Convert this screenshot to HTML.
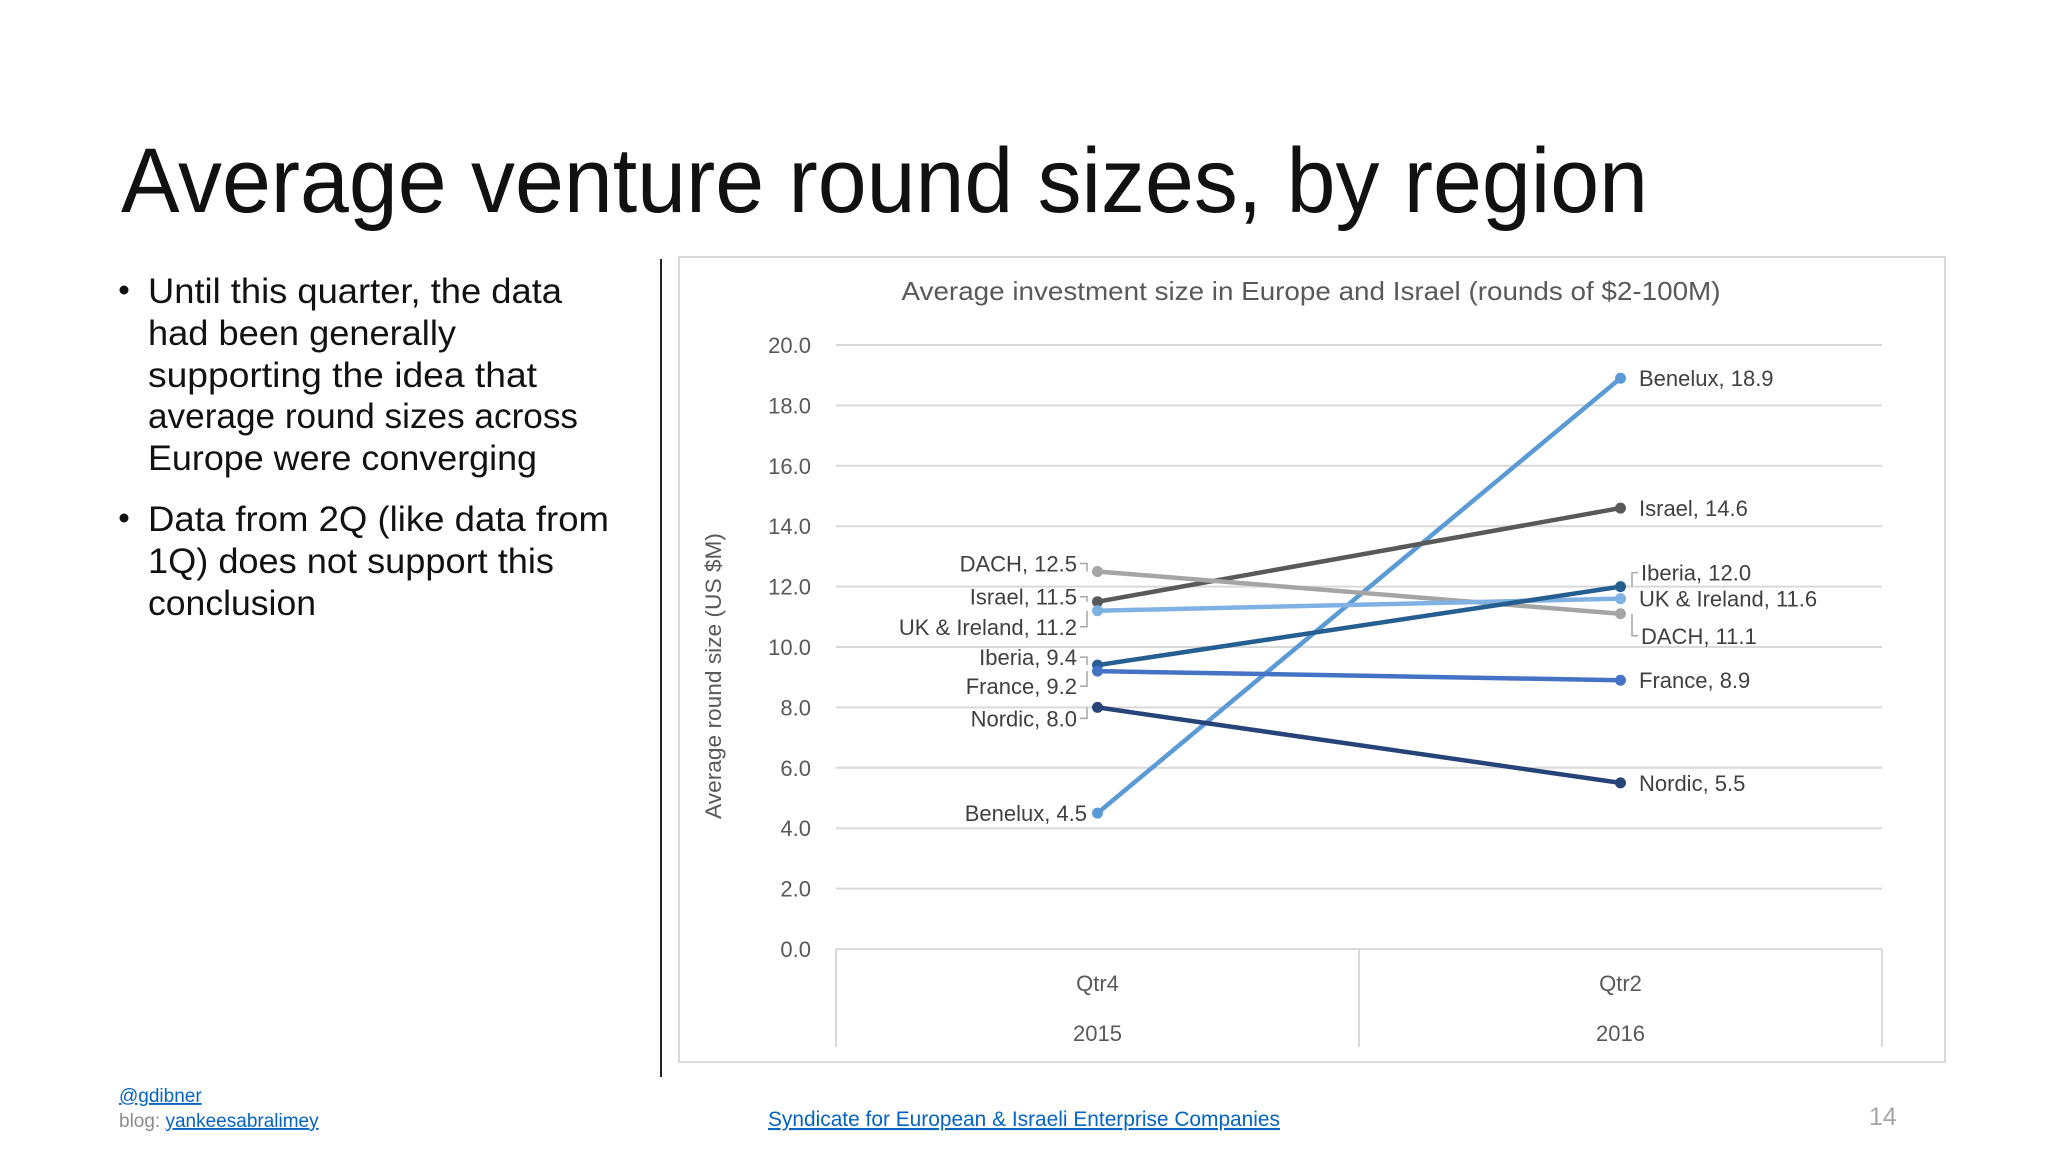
<!DOCTYPE html>
<html><head><meta charset="utf-8"><style>
html,body{margin:0;padding:0;background:#fff}
svg{display:block;font-family:"Liberation Sans",sans-serif}
</style></head><body>
<svg id="s" width="2048" height="1152" viewBox="0 0 2048 1152" xmlns="http://www.w3.org/2000/svg">
<rect x="0" y="0" width="2048" height="1152" fill="#fff"/>
<text x="121" y="212" font-size="92" fill="#111" textLength="1527" lengthAdjust="spacingAndGlyphs">Average venture round sizes, by region</text>
<g font-size="35" fill="#111">
<circle cx="124" cy="290" r="4.5" fill="#111"/>
<text x="148" y="303" textLength="414" lengthAdjust="spacingAndGlyphs">Until this quarter, the data</text>
<text x="148" y="345" textLength="308" lengthAdjust="spacingAndGlyphs">had been generally</text>
<text x="148" y="387" textLength="389" lengthAdjust="spacingAndGlyphs">supporting the idea that</text>
<text x="148" y="428" textLength="430" lengthAdjust="spacingAndGlyphs">average round sizes across</text>
<text x="148" y="470" textLength="389" lengthAdjust="spacingAndGlyphs">Europe were converging</text>
<circle cx="124" cy="518" r="4.5" fill="#111"/>
<text x="148" y="531" textLength="461" lengthAdjust="spacingAndGlyphs">Data from 2Q (like data from</text>
<text x="148" y="573" textLength="406" lengthAdjust="spacingAndGlyphs">1Q) does not support this</text>
<text x="148" y="615" textLength="168" lengthAdjust="spacingAndGlyphs">conclusion</text>
</g>
<line x1="661" y1="259" x2="661" y2="1077" stroke="#222" stroke-width="2"/>
<rect x="679" y="257" width="1266" height="805" fill="#fff" stroke="#d9d9d9" stroke-width="2"/>
<text x="1311" y="300" font-size="26" fill="#595959" text-anchor="middle" textLength="819" lengthAdjust="spacingAndGlyphs">Average investment size in Europe and Israel (rounds of $2-100M)</text>
<text transform="translate(721,676) rotate(-90)" font-size="22" fill="#595959" text-anchor="middle" textLength="286" lengthAdjust="spacingAndGlyphs">Average round size (US $M)</text>
<g id="grid"></g><g id="axis"></g><g id="series"></g><g id="labels"></g>
<g font-size="19">
<text x="119" y="1102" fill="#0563c1" text-decoration="underline">@gdibner</text>
<text x="119" y="1127" fill="#8c8c8c">blog: <tspan fill="#0563c1" text-decoration="underline">yankeesabralimey</tspan></text>
<text x="768" y="1126" font-size="21" fill="#0563c1" text-decoration="underline" textLength="512" lengthAdjust="spacingAndGlyphs">Syndicate for European &amp; Israeli Enterprise Companies</text>
<text x="1869" y="1125" font-size="25" fill="#a6a6a6">14</text>
</g>
</svg>
<script>
const categories = ["Qtr4", "Qtr2"];
const years = ["2015", "2016"];
const seriesNames = ["Benelux", "Israel", "DACH", "UK & Ireland", "Iberia", "France", "Nordic"];
const valuesQ4 = [4.5, 11.5, 12.5, 11.2, 9.4, 9.2, 8.0];
const valuesQ2 = [18.9, 14.6, 11.1, 11.6, 12.0, 8.9, 5.5];
const yTicks = [0, 2, 4, 6, 8, 10, 12, 14, 16, 18, 20];
const colors = ["#5b9bd5", "#595959", "#a5a5a5", "#7fb2e3", "#255e91", "#4472c4", "#264478"];
const leftDy = [0, -5, -8, 16, -8, 15, 11];
const rightDy = [0, 0, 22, 0, -14, 0, 0];

const NS = "http://www.w3.org/2000/svg";
const X0 = 836, X1 = 1882, Y0 = 949, Y1 = 345, YMAX = 20;
const yScale = v => Y0 - (v / YMAX) * (Y0 - Y1);
const bandW = (X1 - X0) / categories.length;
const xScale = i => X0 + bandW * (i + 0.5);
function mk(tag, attrs, parent) {
  const e = document.createElementNS(NS, tag);
  for (const k in attrs) e.setAttribute(k, attrs[k]);
  parent.appendChild(e); return e;
}
const grid = document.getElementById("grid"), axis = document.getElementById("axis");
const ser = document.getElementById("series"), lab = document.getElementById("labels");
yTicks.forEach(t => {
  const y = yScale(t);
  if (t > 0) {
    const l = mk("line", {x1: X0, x2: X1, y1: y, y2: y, stroke: "#d9d9d9", "stroke-width": 2}, grid);
    
    
  }
  const tx = mk("text", {x: 811, y: y + 8, "font-size": 22, fill: "#595959", "text-anchor": "end"}, axis);
  
  
  tx.textContent = t.toFixed(1);
});
const base = mk("line", {x1: X0, x2: X1, y1: Y0, y2: Y0, stroke: "#d9d9d9", "stroke-width": 2}, axis);


for (let i = 0; i <= categories.length; i++) {
  const x = X0 + bandW * i;
  const d = mk("line", {x1: x, x2: x, y1: Y0, y2: 1047, stroke: "#d9d9d9", "stroke-width": 2}, axis);
  
  
}
categories.forEach((c, i) => {
  const t = mk("text", {x: xScale(i), y: 991, "font-size": 22, fill: "#595959", "text-anchor": "middle"}, axis);
  
  
  t.textContent = c;
  const t2 = mk("text", {x: xScale(i), y: 1041, "font-size": 22, fill: "#595959", "text-anchor": "middle"}, axis);
  
  
  t2.textContent = years[i];
});
seriesNames.forEach((n, k) => {
  const xa = xScale(0), xb = xScale(1), ya = yScale(valuesQ4[k]), yb = yScale(valuesQ2[k]);
  const l = mk("line", {x1: xa, y1: ya, x2: xb, y2: yb, stroke: colors[k], "stroke-width": 4.5, "stroke-linecap": "round"}, ser);
  
  
  [[xa, ya], [xb, yb]].forEach(p => {
    const c = mk("circle", {cx: p[0], cy: p[1], r: 5.5, fill: colors[k]}, ser);
    
    
  });
  // left label
  const lx = leftDy[k] === 0 ? 1087 : 1077;
  const ly = ya + leftDy[k];
  const tl = mk("text", {x: lx, y: ly + 8, "font-size": 22, fill: "#404040", "text-anchor": "end"}, lab);
  
  
  tl.textContent = n + ", " + valuesQ4[k].toFixed(1);
  if (leftDy[k] !== 0) {
    const ll = mk("polyline", {points: `${lx+3},${ly} ${lx+10},${ly} ${lx+10},${ya}`, fill: "none", stroke: "#a6a6a6", "stroke-width": 1.5}, lab);
    
    
  }
  const ry = yb + rightDy[k];
  const rx = rightDy[k] === 0 ? 1639 : 1641;
  const tr = mk("text", {x: rx, y: ry + 8, "font-size": 22, fill: "#404040"}, lab);
  
  
  tr.textContent = n + ", " + valuesQ2[k].toFixed(1);
  if (rightDy[k] !== 0) {
    const rl = mk("polyline", {points: `${rx-3},${ry} ${rx-9},${ry} ${rx-9},${yb}`, fill: "none", stroke: "#a6a6a6", "stroke-width": 1.5}, lab);
    
    
  }
});
</script>
</body></html>
